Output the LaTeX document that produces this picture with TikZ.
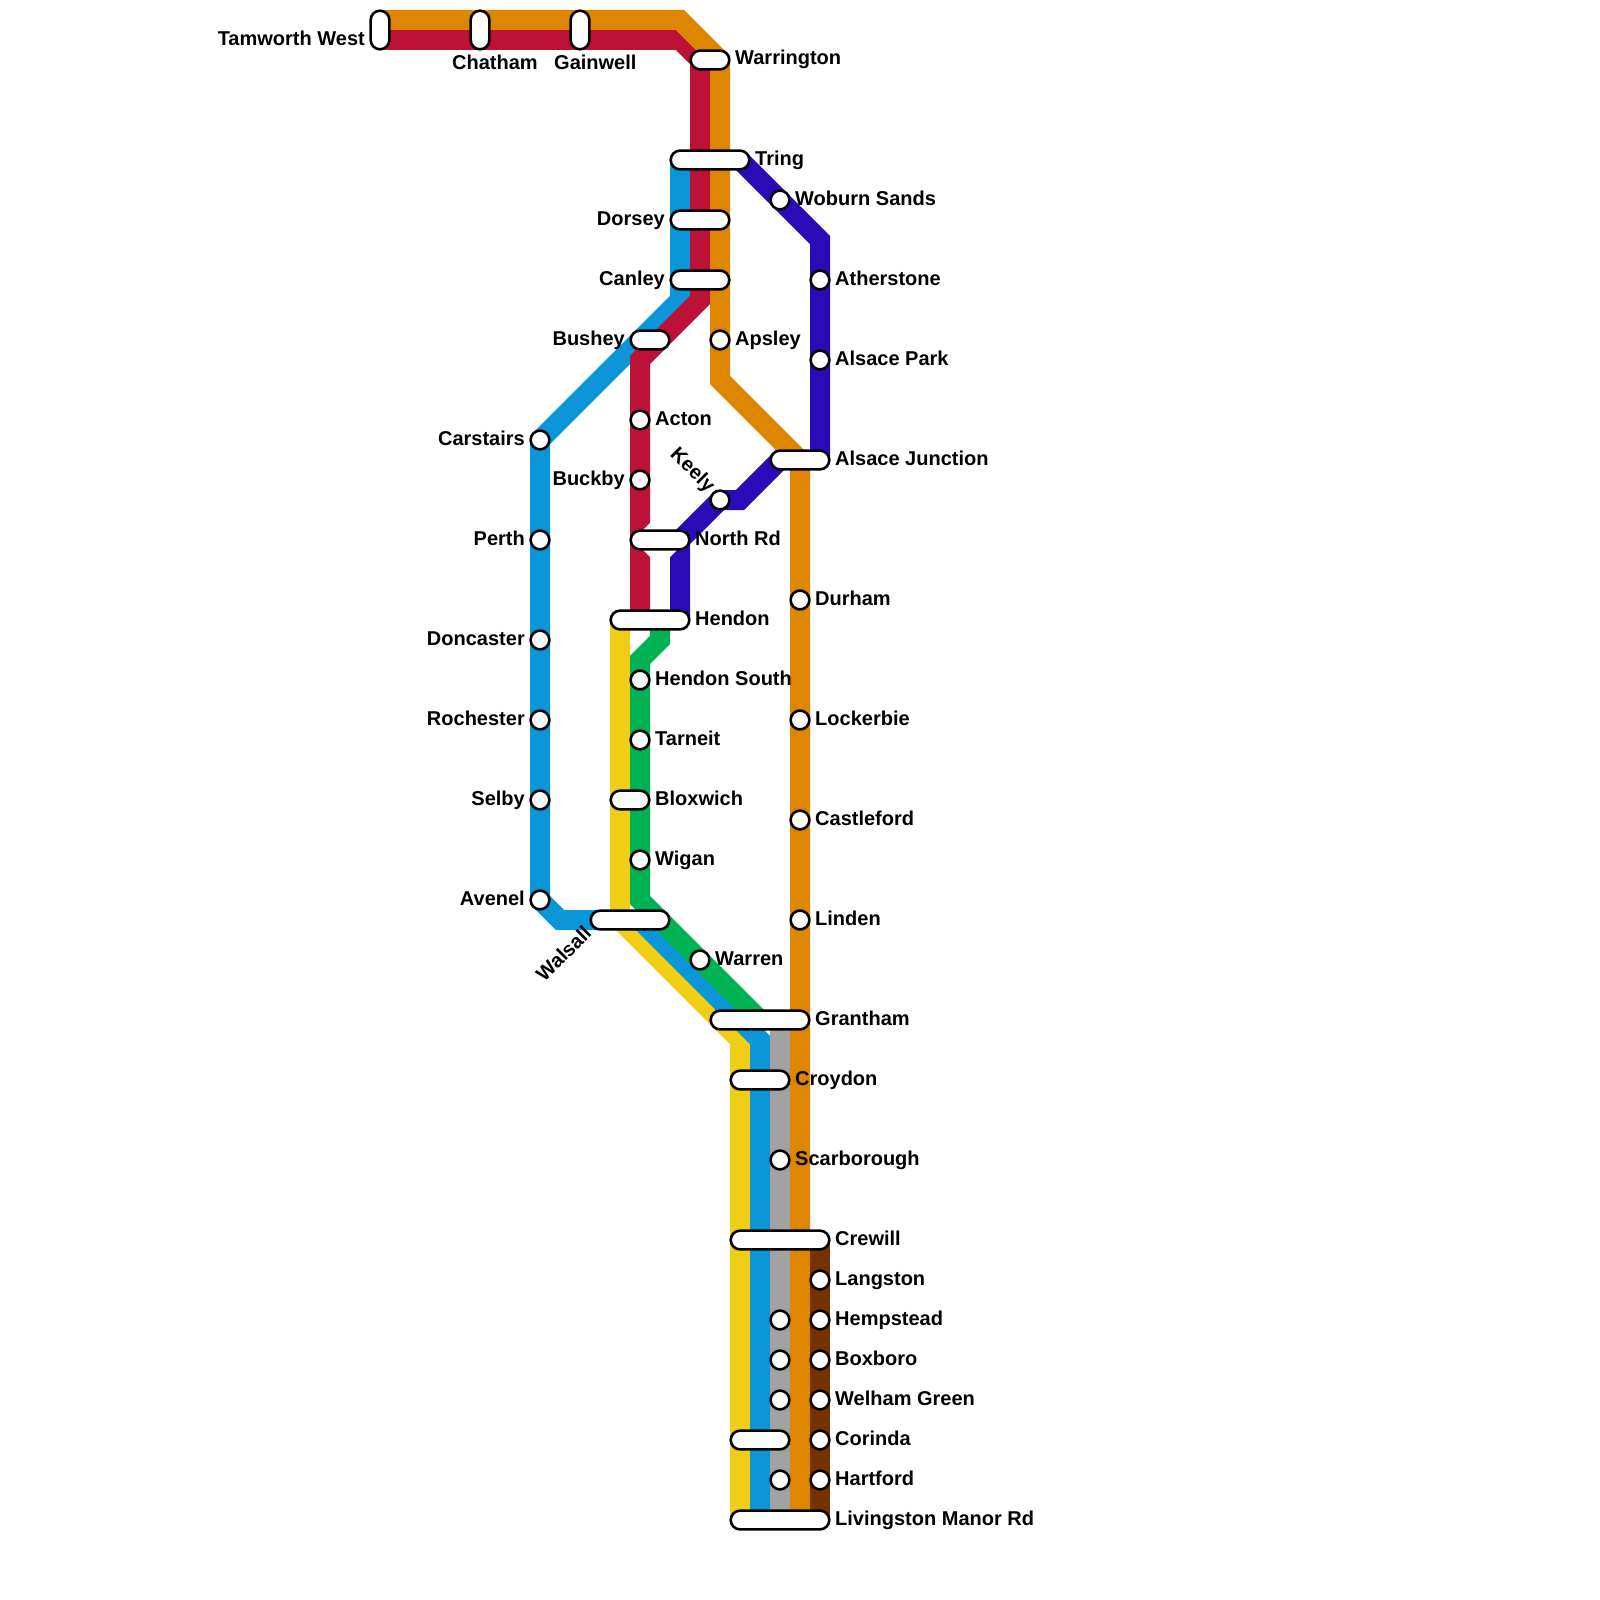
\documentclass[tikz,border=0pt]{standalone}
\usepackage{fontspec}
\setmainfont{Liberation Sans}
\definecolor{lorange}{HTML}{DF8600}
\definecolor{lred}{HTML}{BC1238}
\definecolor{lblue}{HTML}{0A96D8}
\definecolor{lyellow}{HTML}{F0CE15}
\definecolor{lgreen}{HTML}{00B251}
\definecolor{lpurple}{HTML}{2A0BB7}
\definecolor{lgrey}{HTML}{A2A2A2}
\definecolor{lbrown}{HTML}{783200}
\pgfdeclarelayer{lines}
\pgfsetlayers{lines,main}
\tikzset{
 route/.style={line width=20pt,line join=miter,miter limit=10,line cap=butt},
 stop/.style={circle,draw=black,fill=white,line width=2.6pt,minimum size=18.8pt,inner sep=0pt,outer sep=0pt},
 capsule/.style={rectangle,draw=black,fill=white,line width=2.6pt,rounded corners=9.4pt,minimum height=18.8pt,minimum width=#1,inner sep=0pt,outer sep=0pt},
 vcapsule/.style={rectangle,draw=black,fill=white,line width=2.6pt,rounded corners=9.4pt,minimum width=18.8pt,minimum height=#1,inner sep=0pt,outer sep=0pt},
 rlab/.style={anchor=base west,inner sep=0pt,xshift=-0.5pt,font=\fontsize{20}{24}\selectfont\bfseries,text=black},
 llab/.style={anchor=base east,inner sep=0pt,xshift=0.5pt,font=\fontsize{20}{24}\selectfont\bfseries,text=black},
 mlab/.style={anchor=center,inner sep=0pt,font=\fontsize{20}{24}\selectfont\bfseries,text=black},
}
\begin{document}
\begin{tikzpicture}[x=1pt,y=-1pt]
\useasboundingbox (0,0) rectangle (1600,1600);
% stations
\node[vcapsule=38.6pt] (tamworth) at (380,30) {};
\node[vcapsule=38.6pt] (chatham) at (480,30) {};
\node[vcapsule=38.6pt] (gainwell) at (580,30) {};
\node[capsule=38.6pt] (warrington) at (710,60) {};
\node[capsule=78.6pt] (tring) at (710,160) {};
\node[stop] (woburn) at (780,200) {};
\node[capsule=58.6pt] (dorsey) at (700,220) {};
\node[capsule=58.6pt] (canley) at (700,280) {};
\node[stop] (atherstone) at (820,280) {};
\node[capsule=38.6pt] (bushey) at (650,340) {};
\node[stop] (apsley) at (720,340) {};
\node[stop] (alsacepark) at (820,360) {};
\node[stop] (acton) at (640,420) {};
\node[stop] (carstairs) at (540,440) {};
\node[capsule=58.6pt] (alsacej) at (800,460) {};
\node[stop] (buckby) at (640,480) {};
\node[stop] (keely) at (720,500) {};
\node[capsule=58.6pt] (northrd) at (660,540) {};
\node[stop] (perth) at (540,540) {};
\node[stop] (durham) at (800,600) {};
\node[capsule=78.6pt] (hendon) at (650,620) {};
\node[stop] (doncaster) at (540,640) {};
\node[stop] (hendons) at (640,680) {};
\node[stop] (rochester) at (540,720) {};
\node[stop] (lockerbie) at (800,720) {};
\node[stop] (tarneit) at (640,740) {};
\node[capsule=38.6pt] (bloxwich) at (630,800) {};
\node[stop] (selby) at (540,800) {};
\node[stop] (castleford) at (800,820) {};
\node[stop] (wigan) at (640,860) {};
\node[stop] (avenel) at (540,900) {};
\node[capsule=78.6pt] (walsall) at (630,920) {};
\node[stop] (linden) at (800,920) {};
\node[stop] (warren) at (700,960) {};
\node[capsule=98.6pt] (grantham) at (760,1020) {};
\node[capsule=58.6pt] (croydon) at (760,1080) {};
\node[stop] (scarborough) at (780,1160) {};
\node[capsule=98.6pt] (crewill) at (780,1240) {};
\node[stop] (langston) at (820,1280) {};
\node[stop] (hempstead) at (820,1320) {};
\node[stop] (hempsteadg) at (780,1320) {};
\node[stop] (boxboro) at (820,1360) {};
\node[stop] (boxborog) at (780,1360) {};
\node[stop] (welham) at (820,1400) {};
\node[stop] (welhamg) at (780,1400) {};
\node[stop] (corinda) at (820,1440) {};
\node[capsule=58.6pt] (corindab) at (760,1440) {};
\node[stop] (hartford) at (820,1480) {};
\node[stop] (hartfordg) at (780,1480) {};
\node[capsule=98.6pt] (livingston) at (780,1520) {};
% waypoints
\coordinate (o0) at (380,20); \coordinate (o1) at (680,20); \coordinate (o2) at (720,60);
\coordinate (o3) at (720,380); \coordinate (o4) at (800,460); \coordinate (o5) at (800,1520);
\coordinate (r0) at (380,40); \coordinate (r1) at (680,40); \coordinate (r2) at (700,60);
\coordinate (r3) at (700,300); \coordinate (r4) at (640,360); \coordinate (r5) at (640,620);
\coordinate (b0) at (680,160); \coordinate (b1) at (680,300); \coordinate (b2) at (560,920);
\coordinate (b3) at (640,920); \coordinate (b4) at (760,1040); \coordinate (b5) at (760,1520);
\coordinate (p0) at (740,160); \coordinate (p1) at (820,240); \coordinate (p2) at (820,460);
\coordinate (q0) at (780,460); \coordinate (q1) at (740,500); \coordinate (q2) at (680,540); \coordinate (q3) at (680,620);
\coordinate (y0) at (620,620); \coordinate (y1) at (620,920); \coordinate (y2) at (740,1040); \coordinate (y3) at (740,1520);
\coordinate (g0) at (660,620); \coordinate (g1) at (660,640); \coordinate (g2) at (640,660); \coordinate (g3) at (640,900);
\coordinate (k0) at (780,1020); \coordinate (k1) at (780,1520);
\coordinate (w0) at (820,1240); \coordinate (w1) at (820,1520);
\begin{pgfonlayer}{lines}
\draw[route,lyellow] (y0) -- (y1) -- (y2) -- (y3);
\draw[route,lblue] (b0) -- (b1) -- (carstairs.center) -- (avenel.center) -- (b2) -- (b3) -- (b4) -- (b5);
\draw[route,lgrey] (k0) -- (k1);
\draw[route,lred] (r0) -- (r1) -- (r2) -- (r3) -- (r4) -- (r5);
\draw[route,lorange] (o0) -- (o1) -- (o2) -- (o3) -- (o4) -- (o5);
\draw[route,lpurple] (p0) -- (p1) -- (p2);
\draw[route,lpurple] (q0) -- (q1) -- (keely.center) -- (q2) -- (q3);
\draw[route,lgreen] (g0) -- (g1) -- (g2) -- (g3) -- (warren.center) -- (grantham.center);
\draw[route,lbrown] (w0) -- (w1);
\fill[white] (650,523) -- (643,530) -- (643,550) -- (650,557) -- (670,557) -- (677,550) -- (677,532) -- (650,532) -- cycle;
\end{pgfonlayer}
% labels
\node[llab] (ltam) at (364.5,45.5) {Tamworth West};
\node[rlab] (lcha) at (452.5,69.5) {Chatham};
\node[rlab] (lgai) at (554.5,69.5) {Gainwell};
\node[rlab] (lwar) at (735.5,65) {Warrington};
\node[rlab] (ltri) at (755.5,165) {Tring};
\node[rlab] (lwob) at (795.5,205) {Woburn Sands};
\node[llab] (ldor) at (664.5,225) {Dorsey};
\node[llab] (lcan) at (664.5,285) {Canley};
\node[rlab] (lath) at (835.5,285) {Atherstone};
\node[llab] (lbus) at (624.5,345) {Bushey};
\node[rlab] (laps) at (735.5,345) {Apsley};
\node[rlab] (lalp) at (835.5,365) {Alsace Park};
\node[rlab] (lact) at (655.5,425) {Acton};
\node[llab] (lcar) at (524.5,445) {Carstairs};
\node[rlab] (lalj) at (835.5,465) {Alsace Junction};
\node[llab] (lbuc) at (624.5,485) {Buckby};
\node[mlab,rotate=-45] (lkee) at (692,470.5) {Keely};
\node[rlab] (lnor) at (695.5,545) {North Rd};
\node[llab] (lper) at (524.5,545) {Perth};
\node[rlab] (ldur) at (815.5,605) {Durham};
\node[rlab] (lhen) at (695.5,625) {Hendon};
\node[llab] (ldon) at (524.5,645) {Doncaster};
\node[rlab] (lhes) at (655.5,685) {Hendon South};
\node[llab] (lroc) at (524.5,725) {Rochester};
\node[rlab] (lloc) at (815.5,725) {Lockerbie};
\node[rlab] (ltar) at (655.5,745) {Tarneit};
\node[rlab] (lblo) at (655.5,805) {Bloxwich};
\node[llab] (lsel) at (524.5,805) {Selby};
\node[rlab] (lcas) at (815.5,825) {Castleford};
\node[rlab] (lwig) at (655.5,865) {Wigan};
\node[llab] (lave) at (524.5,905) {Avenel};
\node[rlab] (llin) at (815.5,925) {Linden};
\node[mlab,rotate=45] (lwal) at (563.5,953.5) {Walsall};
\node[rlab] (lwrn) at (715.5,965) {Warren};
\node[rlab] (lgra) at (815.5,1025) {Grantham};
\node[rlab] (lcro) at (795.5,1085) {Croydon};
\node[rlab] (lsca) at (795.5,1165) {Scarborough};
\node[rlab] (lcre) at (835.5,1245) {Crewill};
\node[rlab] (llan) at (835.5,1285) {Langston};
\node[rlab] (lhem) at (835.5,1325) {Hempstead};
\node[rlab] (lbox) at (835.5,1365) {Boxboro};
\node[rlab] (lwel) at (835.5,1405) {Welham Green};
\node[rlab] (lcor) at (835.5,1445) {Corinda};
\node[rlab] (lhar) at (835.5,1485) {Hartford};
\node[rlab] (lliv) at (835.5,1525) {Livingston Manor Rd};
\end{tikzpicture}
\end{document}
